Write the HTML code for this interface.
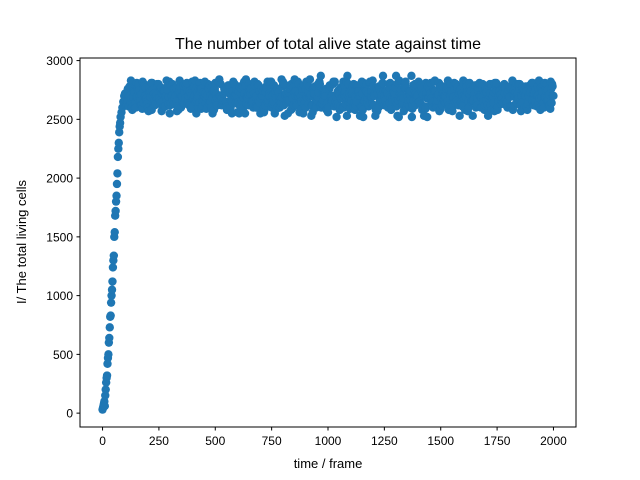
<!DOCTYPE html>
<html><head><meta charset="utf-8"><style>
body{margin:0;background:#fff;}
svg{display:block;font-family:"Liberation Sans","DejaVu Sans",sans-serif;}
</style></head><body>
<svg id="chart" width="640" height="480">
<rect x="0" y="0" width="640" height="480" fill="#fff"/>
<text x="328" y="49" text-anchor="middle" font-size="16">The number of total alive state against time</text>
<g id="marks"></g>
<rect x="80" y="58" width="496" height="369" fill="none" stroke="#000" stroke-width="1"/>
<g id="xt"></g>
<g id="yt"></g>
<text x="328" y="468" text-anchor="middle" font-size="13">time / frame</text>
<text transform="translate(26,242) rotate(-90)" text-anchor="middle" font-size="13">I/ The total living cells</text>
</svg>
<script>
const riseFrames=[0,2,4,6,8,10,12,14,16,18,20,22,24,26,28,30,32,34,36,38,40,42,44,46,48,50,52,54,56,58,60,62,64,66,68,70,72,74,76,78,80,84,88,92,96];
const riseValues=[30,45,60,80,100,60,150,200,260,300,320,420,470,500,600,640,730,820,830,940,1000,1050,1120,1240,1300,1340,1500,1540,1680,1720,1800,1850,1950,2040,2180,2250,2300,2390,2440,2470,2520,2560,2600,2650,2700];
const plateauFrames=[];for(let f=100;f<=2000;f+=10)plateauFrames.push(f);
const plateauValues=[
2720,2650,2780,2600,2740,2690,2800,2620,2760,2700,2580,2730,2810,2660,2710,2640,2770,2600,2690,2750,
2620,2800,2680,2570,2740,2700,2630,2790,2660,2720,2610,2830,2690,2640,2760,2700,2590,2780,2650,2730,
2810,2620,2700,2680,2760,2600,2740,2660,2820,2700,2630,2770,2580,2720,2690,2800,2640,2740,2610,2780,
2550,2700,2760,2650,2720,2600,2790,2680,2740,2620,2820,2700,2660,2760,2590,2730,2640,2800,2700,2550,
2760,2680,2840,2620,2720,2650,2790,2600,2740,2700,2560,2780,2660,2820,2630,2710,2760,2600,2690,2800,
2640,2730,2580,2770,2700,2820,2650,2740,2610,2690,2780,2530,2720,2660,2800,2620,2740,2700,2580,2760,
2650,2810,2690,2620,2770,2600,2730,2870,2660,2720,2640,2790,2700,2610,2520,2750,2680,2820,2630,2710,
2590,2780,2700,2650,2740,2600,2810,2680,2720,2640,2830,2700,2570,2760,2660,2740,2620,2800,2690,2650,
2770,2530,2720,2680,2810,2600,2740,2660,2790,2620,2700,2760,2580,2730,2680,2800,2640,2750,2610,2710,2780];
const xTicks=[0,250,500,750,1000,1250,1500,1750,2000];
const yTicks=[0,500,1000,1500,2000,2500,3000];
const X0=80,X1=576,Y0=427,Y1=58,xmin=-100,xmax=2100,ymin=-118,ymax=3022;
const xs=v=>X0+(v-xmin)/(xmax-xmin)*(X1-X0);
const ys=v=>Y0-(v-ymin)/(ymax-ymin)*(Y0-Y1);
const NS="http://www.w3.org/2000/svg";
const marks=document.getElementById('marks');
function pt(f,v){if(v===undefined||isNaN(v)||f>2000)return;const c=document.createElementNS(NS,'circle');
c.setAttribute('cx',xs(f));c.setAttribute('cy',ys(v));c.setAttribute('r',4.2);c.setAttribute('fill','#1f77b4');


marks.appendChild(c);}
riseFrames.forEach((f,i)=>pt(f,riseValues[i]));
const N=plateauValues.length;
const shifts=[0,7,13,29,41];
plateauFrames.forEach((f,i)=>{shifts.forEach((s,k)=>pt(f+k*2,plateauValues[(i+s)%N]));});
const xt=document.getElementById('xt'),yt=document.getElementById('yt');
xTicks.forEach(t=>{const x=xs(t);const l=document.createElementNS(NS,'line');
l.setAttribute('x1',x);l.setAttribute('x2',x);l.setAttribute('y1',427);l.setAttribute('y2',430.5);l.setAttribute('stroke','#000');


xt.appendChild(l);const s=document.createElementNS(NS,'text');s.setAttribute('x',x);s.setAttribute('y',445);s.setAttribute('text-anchor','middle');s.setAttribute('font-size','12');s.textContent=t;


xt.appendChild(s);});
yTicks.forEach(t=>{const y=ys(t);const l=document.createElementNS(NS,'line');
l.setAttribute('x1',76.5);l.setAttribute('x2',80);l.setAttribute('y1',y);l.setAttribute('y2',y);l.setAttribute('stroke','#000');


yt.appendChild(l);const s=document.createElementNS(NS,'text');s.setAttribute('x',73);s.setAttribute('y',y+4.5);s.setAttribute('text-anchor','end');s.setAttribute('font-size','12');s.textContent=t;


yt.appendChild(s);});
</script>
</body></html>
